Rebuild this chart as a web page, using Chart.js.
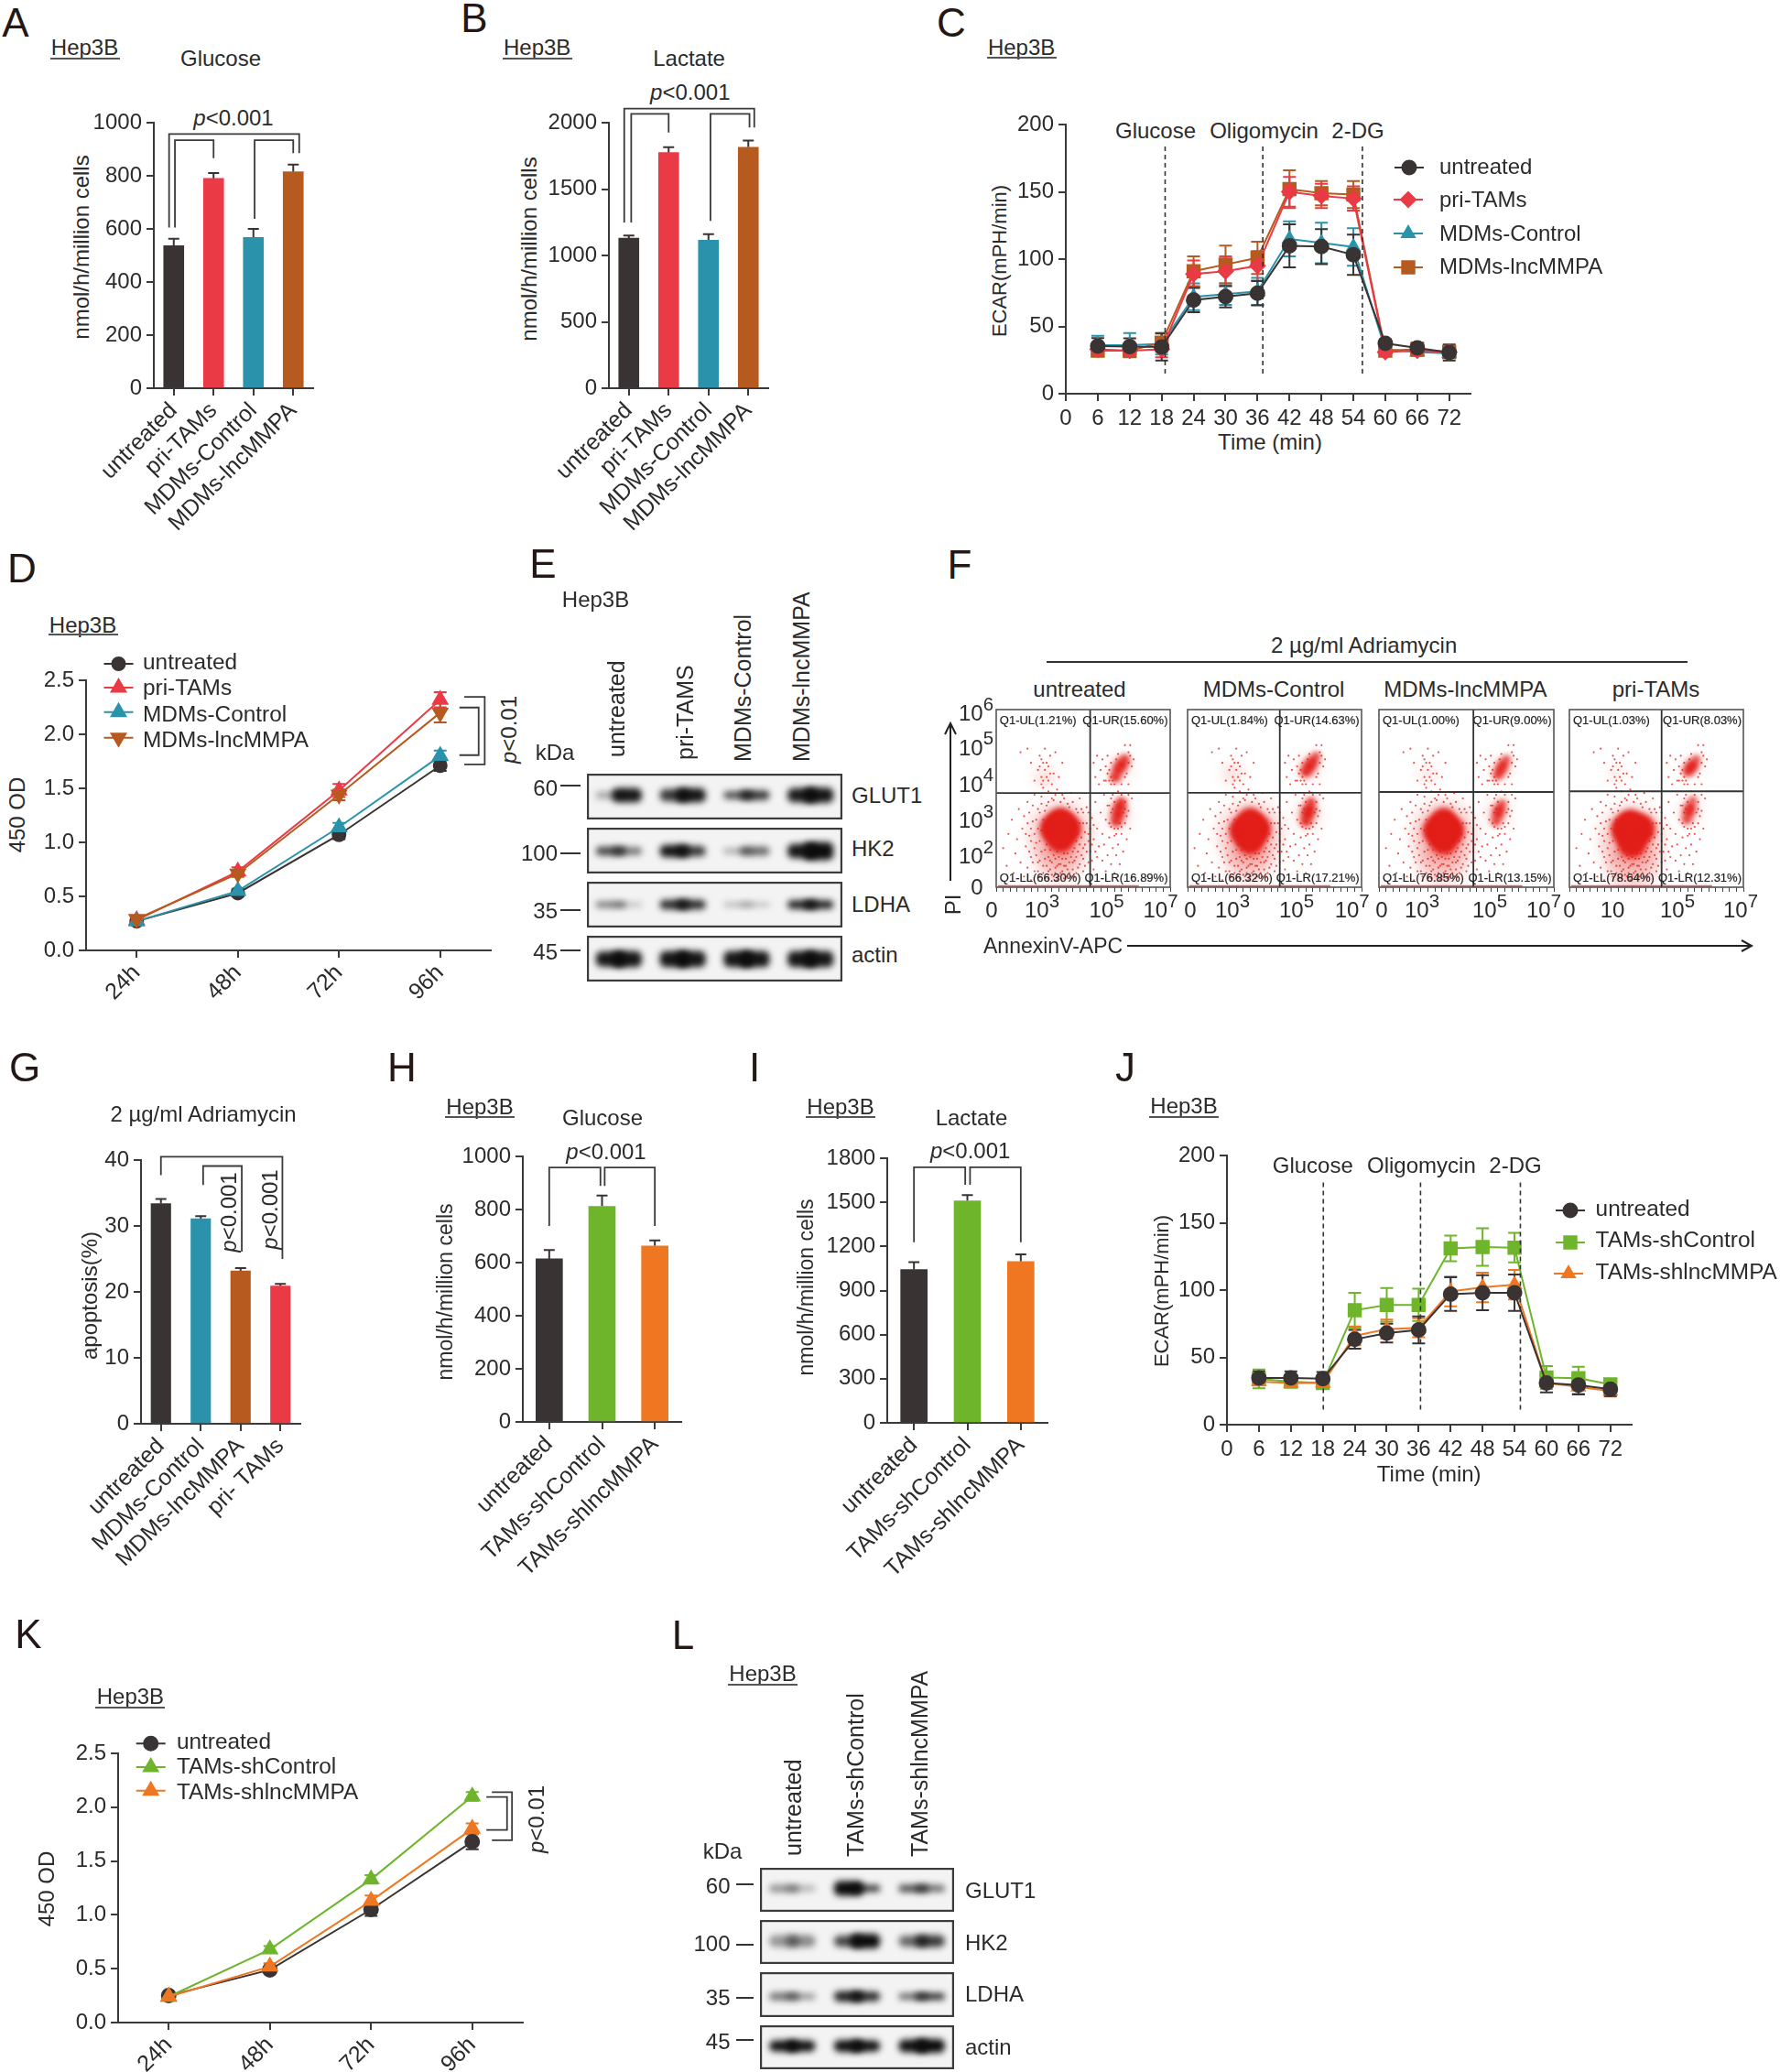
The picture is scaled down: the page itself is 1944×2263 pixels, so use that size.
<!DOCTYPE html>
<html><head><meta charset="utf-8">
<script src="https://cdn.jsdelivr.net/npm/chart.js@4"></script>
<style>
html,body{margin:0;padding:0;background:#fff;width:1944px;height:2263px;overflow:hidden}
#page{position:relative;width:1944px;height:2263px;font-family:"Liberation Sans",Arial,sans-serif;color:#2b2b2b}
canvas{position:absolute}
.t{position:absolute;white-space:nowrap;line-height:1}
.r{position:absolute;background:#3a3a3a}
sup{font-size:.85em;position:relative;top:-.55em;line-height:0;vertical-align:baseline}
</style></head><body><div id="page"></div>
<script>
// ---------- categories ----------
const catsAB = ['untreated','pri-TAMs','MDMs-Control','MDMs-lncMMPA'];
const catsG = ['untreated','MDMs-Control','MDMs-lncMMPA','pri- TAMs'];
const catsHI = ['untreated','TAMs-shControl','TAMs-shlncMMPA'];
const hours = ['24h','48h','72h','96h'];
const blotProteins = ['GLUT1','HK2','LDHA','actin'];
const blotKda = ['60','100','35','45'];
const blotLanesE = ['untreated','pri-TAMS','MDMs-Control','MDMs-lncMMPA'];
const flowTitles = ['untreated','MDMs-Control','MDMs-lncMMPA','pri-TAMs'];
// ---------- bar values ----------
const glucoseA = [537,790,568,815], glucoseAErr = [26,20,32,27];
const lactateB = [1130,1775,1115,1815], lactateBErr = [20,40,45,50];
const apoptosisG = [33.4,31.1,23.2,20.9], apoptosisGErr = [0.7,0.4,0.4,0.3];
const glucoseH = [614,812,663], glucoseHErr = [33,41,21];
const lactateI = [1043,1510,1098], lactateIErr = [50,39,48];
// ---------- ECAR C ----------
const ecarTimes = [6,12,18,24,30,36,42,48,54,60,66,72];
const ecarCUntreated = [35.4,35.1,34.7,69.6,72.1,74.6,109.8,109.3,103.2,37.4,34,30.6];
const ecarCUntreatedErr = [6,6,10,9,8,9,16,13,15,3,4,6];
const ecarCPri = [33,32,33,89,91,95,150,147,145,31,32,31];
const ecarCPriErr = [5,4,6,10,11,11,11,9,9,2,2,3];
const ecarCCtrl = [36,36,37,72,74,76,115,112,109,33,31,30];
const ecarCCtrlErr = [7,9,8,10,8,10,13,15,14,3,3,3];
const ecarCLnc = [32,32,38,91,96,101,152,149,148,32,33,31];
const ecarCLncErr = [3,4,7,11,14,12,14,9,10,2,3,4];
// ---------- ECAR J ----------
const ecarJUntreated = [34.7,34.7,34.2,63.4,68,70.4,97,98,98,31,29.4,26.3];
const ecarJUntreatedErr = [5,5,5,7,7,10,12.5,13,13.5,7,7,5];
const ecarJCtrl = [34,32,31,85,89,89,131,132,131.5,35,34.5,30];
const ecarJCtrlErr = [7,3,3,13,12.5,12,9.5,14,11,8.5,8.5,2];
const ecarJLnc = [32,31,31,66,71,72,99,102,104,31,28,25];
const ecarJLncErr = [3,3,3,7,7,7,11,11,11,3,5,4];
// ---------- growth D ----------
const odDUntreated = [.27,.53,1.07,1.71], odDUntreatedErr = [.01,.03,.04,.05];
const odDPri = [.28,.73,1.48,2.32], odDPriErr = [.02,.04,.06,.07];
const odDCtrl = [.27,.55,1.14,1.80], odDCtrlErr = [.02,.02,.04,.05];
const odDLnc = [.29,.71,1.44,2.2], odDLncErr = [.02,.03,.05,.09];
// ---------- growth K ----------
const odKUntreated = [.25,.49,1.05,1.68], odKUntreatedErr = [.02,.03,.06,.07];
const odKCtrl = [.24,.68,1.33,2.1], odKCtrlErr = [.01,.03,.04,.04];
const odKLnc = [.24,.52,1.13,1.8], odKLncErr = [.01,.03,.05,.05];
// ---------- western blots: band darkness and thickness, lane by lane (two lobes per lane) ----------
const blotEDark = [[[.35,.95],[.8,.95],[.7,.8],[.92,.95]],[[.75,.55],[.95,.8],[.35,.6],[.95,1]],[[.55,.25],[.85,.85],[.3,.25],[.9,.9]],[[.95,.95],[.95,.95],[.95,.95],[.95,.95]]];
const blotEThick = [[[.14,.3],[.26,.3],[.16,.2],[.3,.32]],[[.18,.16],[.26,.22],[.1,.18],[.3,.38]],[[.12,.08],[.2,.2],[.08,.08],[.18,.18]],[[.32,.34],[.34,.34],[.34,.34],[.34,.34]]];
const blotECentre = [.53,.49,.5,.49];
const blotLDark = [[[.42,.28],[1,.8],[.7,.6]],[[.4,.45],[.75,1],[.6,.8]],[[.55,.4],[.9,.85],[.6,.85]],[[.97,.97],[.97,.97],[.97,1]]];
const blotLThick = [[[.16,.12],[.32,.14],[.16,.14]],[[.26,.26],[.24,.32],[.24,.26]],[[.16,.13],[.22,.2],[.13,.14]],[[.24,.24],[.26,.24],[.28,.3]]];
const blotLCentre = [.53,.52,.46,.53];
// ---------- flow cytometry: estimated density clusters [x%, y%, r] ----------
const flowCore = [
 [[37,33,19],[33,33,15],[41,33,15],[37,27,15],[37,38,13],[70,66,6],[72,69,7],[68.5,62,6],[74,72,5],[69,37,6],[70,41,7],[71,45,7],[72,48,5]],
 [[36,32,19],[32,32,15],[40,33,15],[36,26,15],[36,38,13],[68,65,6],[70,68,7],[72,71,6],[74,74,4],[68,37,6],[69,41,7],[70,44,7],[71,48,5]],
 [[37,32,19],[33,32,15],[41,32,15],[37,26,15],[37,38,13],[68,63,5],[69.5,66,6],[71,69,6],[73,72,4],[67,37,5],[68,41,6],[69,44,6],[70.5,47,4]],
 [[36,31,20],[32,33,15],[41,33,16],[36,24,15],[35,37,13],[68,65,5],[69.5,67,6],[71,69,6],[73,72,4],[67.5,38,5],[68.5,42,6],[69.5,45,6],[71,49,4]]
];
const flowHalo = [
 [[37,30,34],[36,16,24],[71,67,10],[70,41,12],[28,62,9]],
 [[36,30,34],[35,16,24],[70,68,10],[69,41,12],[26,64,9]],
 [[37,30,34],[36,15,26],[70,67,8],[68,42,11],[28,64,7]],
 [[36,28,34],[36,13,28],[70,68,7],[69,42,10],[27,64,6]]
];
const flowSpecks = [[4,22],[6,12],[7,30],[9,38],[10,8],[11,19],[12,27],[13,44],[14,14],[15,33],[16,6],[16,40],[17,23],[18,11],[18,48],[19,29],[20,4],[20,17],[21,37],[22,9],[22,52],[23,25],[24,14],[24,44],[25,6],[26,32],[26,51],[27,12],[27,56],[28,21],[28,5],[29,46],[30,9],[30,54],[31,15],[32,7],[33,49],[34,11],[35,4],[35,55],[36,13],[37,8],[38,52],[39,5],[40,12],[41,47],[42,8],[43,53],[44,14],[45,6],[46,44],[47,11],[48,50],[49,18],[50,9],[50,36],[51,24],[52,45],[53,14],[53,30],[54,20],[55,39],[56,10],[56,27],[57,48],[58,17],[58,33],[59,23],[60,42],[61,15],[61,30],[62,52],[62,24],[63,9],[63,38],[64,18],[64,46],[65,28],[66,13],[66,34],[67,22],[67,52],[68,8],[68,29],[69,18],[70,24],[71,13],[72,30],[73,20],[74,36],[75,27],[76,43],[77,33],[78,50],[22,60],[24,66],[25,74],[26,58],[27,70],[28,78],[29,62],[30,68],[31,74],[32,58],[33,64],[34,76],[20,70],[18,78],[14,76],[36,62],[38,70],[56,70],[57,62],[58,74],[59,58],[60,66],[61,72],[62,60],[63,68],[64,74],[65,60],[66,70],[76,76],[77,80],[78,68],[79,72],[72,58],[74,62],[76,58],[66,58],[70,54],[72,52],[74,48],[76,52],
 [17,30],[18,36],[19,20],[19,42],[20,26],[20,33],[21,14],[21,46],[22,22],[22,30],[23,38],[23,18],[24,9],[24,33],[25,26],[25,42],[25,15],[26,20],[26,47],[27,8],[27,38],[28,16],[28,43],[29,12],[29,24],[30,5],[30,17],[30,48],[31,10],[31,21],[32,14],[32,50],[33,6],[33,18],[34,8],[34,16],[34,52],[35,12],[35,20],[36,6],[36,17],[37,13],[37,48],[38,9],[38,16],[39,12],[39,19],[39,50],[40,6],[40,16],[41,10],[41,19],[42,14],[42,45],[43,6],[43,17],[44,10],[44,20],[44,48],[45,15],[45,22],[46,8],[46,17],[46,26],[47,20],[47,42],[47,30],[48,13],[48,24],[48,36],[49,28],[49,44],[50,16],[50,22],[50,42],[51,31],[51,12],[52,20],[52,36],[53,26],[53,42],[54,33],[55,15],[55,24],[56,35],[57,20],[67,44],[68,48],[66,42],[65,36],[69,30],[70,33],[71,36],[73,42],[74,44],[75,40],[65,46],[66,50],[72,34],[68,33],[63,60],[64,64],[65,66],[66,62],[67,60],[68,58],[69,72],[70,75],[76,70],[77,74],[75,64],[74,80],[26,62],[27,60],[28,66],[29,70],[30,60],[31,64],[25,68],[26,72]];
const flowQuadX = [54,53,54,53], flowQuadY = [53,53.2,53.6,54];
const flowQ = [['Q1-UL(1.21%)','Q1-UR(15.60%)','Q1-LL(66.30%)','Q1-LR(16.89%)'],['Q1-UL(1.84%)','Q1-UR(14.63%)','Q1-LL(66.32%)','Q1-LR(17.21%)'],['Q1-UL(1.00%)','Q1-UR(9.00%)','Q1-LL(76.85%)','Q1-LR(13.15%)'],['Q1-UL(1.03%)','Q1-UR(8.03%)','Q1-LL(78.64%)','Q1-LR(12.31%)']];

// ---------- colours ----------
const cBlack='#3a3333',cRed='#ea3a45',cTeal='#2a93ab',cBrown='#b75a1f',cGreen='#6fb52c',cOrange='#ef7722',axisC='#3a3a3a';

Chart.defaults.font.family='"Liberation Sans"';
Chart.defaults.font.size=24;
Chart.defaults.color='#2b2b2b';
Chart.defaults.animation=false;
Chart.defaults.responsive=false;
Chart.defaults.devicePixelRatio=1;
Chart.defaults.layout.autoPadding=false;
Chart.defaults.plugins.legend.display=false;
Chart.defaults.plugins.tooltip.enabled=false;

const page=document.getElementById('page');
function T(s,x,y,o={}){const d=document.createElement('div');d.className='t';d.innerHTML=s;
 const size=o.size||24;let st=`left:${x}px;top:${y}px;font-size:${size}px;`;
 if(o.color)st+=`color:${o.color};`;if(o.stroke)st+=`-webkit-text-stroke:${o.stroke}px #222;color:#222;`;
 const a=o.a||'c';
 if(a==='up')st+='transform-origin:0 0;transform:rotate(-90deg) translate(0,-50%);';
 else if(a==='cup')st+='transform:translate(-50%,-50%) rotate(-90deg);';
 else if(a==='l')st+='transform:translate(0,-50%);';
 else if(a==='r')st+='transform:translate(-100%,-50%);';
 else st+='transform:translate(-50%,-50%);';
 d.style.cssText=st;page.appendChild(d);return d;}
function R(x,y,w,h,c){const d=document.createElement('div');d.className='r';d.style.cssText=`left:${x}px;top:${y}px;width:${w}px;height:${h}px;`+(c?`background:${c};`:'');page.appendChild(d);}
function cv(L,t,W,H){const c=document.createElement('canvas');c.width=Math.round(W);c.height=Math.round(H);c.style.left=L+'px';c.style.top=t+'px';c.style.width=Math.round(W)+'px';c.style.height=Math.round(H)+'px';page.appendChild(c);return c.getContext('2d');}
function cell(s,x,yUnderline,cx,cy){T(s,cx,cy);R(cx-38,yUnderline,76,2,'#555');}
const pValue='<i>p</i>&lt;0.001',pValue2='<i>p</i>&lt;0.01';

// marks plugin: error bars, brackets, dashed lines, legend glyphs, all placed through the chart's scales
const marks={id:'marks',
 beforeDatasetsDraw(ch){const {ctx,scales:{x,y}}=ch;ctx.save();
  const ds=ch.data.datasets.map((d,i)=>[d,i]).sort((a,b)=>(b[0].order||0)-(a[0].order||0));
  ds.forEach(([d,i])=>{if(!d.errors)return;const m=ch.getDatasetMeta(i);
   ctx.strokeStyle=d.errColor||d.borderColor;ctx.lineWidth=2;
   d.errors.forEach((e,k)=>{const el=m.data[k];const v=d.data[k];const val=typeof v==='number'?v:v.y;
    const px=el.x;const up=y.getPixelForValue(val+e),dn=d.upOnly?y.getPixelForValue(val):y.getPixelForValue(val-e);const c=d.cap||7;
    ctx.beginPath();ctx.moveTo(px,dn);ctx.lineTo(px,up);ctx.moveTo(px-c,up);ctx.lineTo(px+c,up);
    if(!d.upOnly){ctx.moveTo(px-c,dn);ctx.lineTo(px+c,dn);}ctx.stroke();});});
  ctx.restore();},
 afterDatasetsDraw(ch,_,o){const {ctx,scales:{x,y}}=ch;ctx.save();
  ctx.strokeStyle='#3a3a3a';ctx.lineWidth=1.8;
  (o.brackets||[]).forEach(b=>{ctx.beginPath();b.forEach((p,i)=>{const X=x.getPixelForValue(p[0]),Y=y.getPixelForValue(p[1]);i?ctx.lineTo(X,Y):ctx.moveTo(X,Y);});ctx.stroke();});
  ctx.setLineDash([5,4]);ctx.lineWidth=1.6;ctx.strokeStyle='#333';
  (o.dashes||[]).forEach(b=>{const X=x.getPixelForValue(b[0]);ctx.beginPath();ctx.moveTo(X,y.getPixelForValue(b[1]));ctx.lineTo(X,y.getPixelForValue(b[2]));ctx.stroke();});
  ctx.setLineDash([]);
  (o.legend||[]).forEach(l=>{const d=ch.data.datasets[l.i];const X=l.x-ch.canvas.offsetLeft,Y=l.y-ch.canvas.offsetTop;
   ctx.strokeStyle=d.borderColor;ctx.fillStyle=d.borderColor;ctx.lineWidth=2;
   ctx.beginPath();ctx.moveTo(X-16,Y);ctx.lineTo(X+16,Y);ctx.stroke();
   Chart.helpers.drawPoint(ctx,{pointStyle:d.pointStyle,radius:d.pointRadius,rotation:d.pointRotation||0,borderWidth:1},X,Y);});
  ctx.restore();}};

function scaleBase(extra){return Object.assign({border:{color:axisC,width:2},
  grid:{drawOnChartArea:false,drawTicks:true,tickLength:8,color:axisC,tickColor:axisC,lineWidth:2,offset:false}},extra);}

function frame(o){const yw=72,pt=o.padTop||32,xh=o.xh,pr=o.extraRight||30;const L=o.left-yw,t=o.top-pt,W=o.right-L+pr,H=pt+(o.bottom-o.top)+xh;
 return {ctx:cv(L,t,W,H),padding:{left:0,top:pt,right:pr,bottom:0},yFit:s=>{s.width=yw;},xFit:s=>{s.height=xh;}};}

function barChart(o){const f=frame({...o,xh:195});
 new Chart(f.ctx,{type:'bar',data:{labels:o.labels,datasets:[{data:o.values,errors:o.errs,upOnly:true,errColor:'#3a3333',cap:o.cap||6,backgroundColor:o.colors,barThickness:o.barW}]},
 options:{layout:{padding:f.padding},plugins:{marks:{brackets:o.brackets}},scales:{
  x:scaleBase({afterFit:f.xFit,ticks:{autoSkip:false,minRotation:45,maxRotation:45,padding:2,font:{size:25}}}),
  y:scaleBase({afterFit:f.yFit,min:0,max:o.max,ticks:{stepSize:o.step,padding:5,callback:v=>String(v)}})}},plugins:[marks]});}

function ln(label,data,errors,color,style,order,radius,rot){return {label,data,errors,borderColor:color,backgroundColor:color,pointBackgroundColor:color,pointBorderColor:color,pointStyle:style,pointRadius:radius,pointRotation:rot||0,borderWidth:2,tension:0,clip:false,order,cap:7};}

function ecar(o){const f=frame({...o,xh:o.xh,extraRight:340});
 o.ds.forEach(d=>{d.data=d.data.map((v,i)=>({x:ecarTimes[i],y:v}));});
 new Chart(f.ctx,{type:'line',data:{datasets:o.ds},options:{layout:{padding:f.padding},plugins:{marks:{dashes:o.dashes,legend:o.legend}},scales:{
  x:scaleBase({type:'linear',afterFit:f.xFit,min:0,max:76,ticks:{stepSize:6,includeBounds:false,autoSkip:false,maxRotation:0,padding:5,font:{size:24}}}),
  y:scaleBase({afterFit:f.yFit,min:0,max:200,ticks:{stepSize:50,padding:5}})}},plugins:[marks]});}

function growth(o){const f=frame({...o,xh:70,extraRight:70});
 new Chart(f.ctx,{type:'line',data:{labels:hours,datasets:o.ds},options:{layout:{padding:f.padding},plugins:{marks:{brackets:o.brackets,legend:o.legend}},scales:{
  x:scaleBase({offset:true,afterFit:f.xFit,ticks:{autoSkip:false,minRotation:45,maxRotation:45,padding:2,font:{size:25}}}),
  y:scaleBase({afterFit:f.yFit,min:0,max:2.5,ticks:{stepSize:.5,padding:5,callback:v=>v.toFixed(1)}})}},plugins:[marks]});}

const blotPaint={id:'blotPaint',
 beforeDraw(ch){const {ctx,canvas}=ch;ctx.save();ctx.fillStyle='#f3f3f3';ctx.fillRect(0,0,canvas.width,canvas.height);ctx.restore();},
 beforeDatasetsDraw(ch){ch.ctx.save();ch.ctx.filter='blur(3.5px)';},
 afterDatasetsDraw(ch){ch.ctx.restore();},
 afterDraw(ch){const {ctx,canvas}=ch;ctx.save();ctx.strokeStyle='#3c3c3c';ctx.lineWidth=2.4;ctx.strokeRect(1,1,canvas.width-2,canvas.height-2);ctx.restore();}};
function blotRow(x0,x1,y0,y1,dark,thick,centre,barW){
 const labels=[],data=[],colors=[];
 dark.forEach((lane,l)=>{labels.push(l+'.0',l+'.1',l+'.2',l+'.3');
  data.push(null,[centre-thick[l][0]/2,centre+thick[l][0]/2],[centre-thick[l][1]/2,centre+thick[l][1]/2],null);
  colors.push('#000',`rgba(12,12,12,${lane[0]})`,`rgba(12,12,12,${lane[1]})`,'#000');});
 new Chart(cv(x0,y0,x1-x0,y1-y0),{type:'bar',data:{labels,datasets:[{data,backgroundColor:colors,barThickness:barW,borderRadius:6,borderSkipped:false}]},
  options:{layout:{padding:0},scales:{x:{display:false},y:{display:false,min:0,max:1}}},plugins:[blotPaint]});}

const flowFrame={id:'flowFrame',
 beforeDatasetDraw(ch,a){const d=ch.data.datasets[a.index];ch.ctx.save();if(d.blur)ch.ctx.filter=`blur(${d.blur}px)`;},
 afterDatasetDraw(ch){ch.ctx.restore();},
 afterDatasetsDraw(ch,_,o){const {ctx,chartArea:a,scales:{x,y}}=ch;ctx.save();ctx.strokeStyle='#333';ctx.lineWidth=1.8;
  ctx.beginPath();ctx.moveTo(x.getPixelForValue(o.qx),a.top);ctx.lineTo(x.getPixelForValue(o.qx),a.bottom);
  ctx.moveTo(a.left,y.getPixelForValue(o.qy));ctx.lineTo(a.right,y.getPixelForValue(o.qy));ctx.stroke();
  ctx.strokeStyle='#555';ctx.lineWidth=1.6;ctx.strokeRect(a.left,a.top,a.width,a.height);ctx.restore();}};
function flow(i,x0,x1,y0,y1){const p=8,W=x1-x0+2*p,H=y1-y0+p+10;
 const toB=a=>a.map(v=>({x:v[0],y:v[1],r:v[2]}));
 new Chart(cv(x0-p,y0-p,W,H),{type:'bubble',data:{datasets:[
  {data:toB(flowCore[i]),backgroundColor:'rgb(226,30,25)',borderWidth:0,blur:3,order:0},
  {data:flowSpecks.map(v=>({x:v[0],y:v[1],r:1.1})),backgroundColor:'rgba(226,40,30,.8)',borderWidth:0,order:1},
  {data:toB(flowHalo[i]),backgroundColor:'rgba(226,30,25,.24)',borderWidth:0,blur:8,order:2},
  {type:'line',data:[{x:1,y:.6},{x:82,y:.6}],borderColor:'rgba(226,30,25,.7)',borderWidth:2,pointRadius:0,order:3}]},
  options:{layout:{padding:{left:p,right:p,top:p,bottom:0}},plugins:{flowFrame:{qx:flowQuadX[i],qy:flowQuadY[i]}},scales:{
   x:{type:'linear',min:0,max:100,afterFit:s=>{s.height=10;},border:{display:false},grid:{drawOnChartArea:false,tickLength:5,color:'#444',tickColor:'#444',lineWidth:1},ticks:{stepSize:4,autoSkip:false,includeBounds:false,callback:()=>'',font:{size:1},padding:0}},
   y:{type:'linear',min:0,max:100,afterFit:s=>{s.width=0;},display:false}}},plugins:[flowFrame]});}

const letter=(s,x,y)=>T(s,x,y,{size:44,color:'#231815'});
const lg=24.4;
// ---------- A ----------
letter('A',17,25);cell('Hep3B',0,63,92.5,52);T('Glucose',241,64);T(pValue,255,129);T('nmol/h/million cells',89,270,{a:'cup'});
barChart({left:167.6,right:342,top:134,bottom:423.6,labels:catsAB,values:glucoseA,errs:glucoseAErr,colors:[cBlack,cRed,cTeal,cBrown],max:1000,step:200,barW:22,
 brackets:[[[-.117,605],[-.117,957],[3.15,957],[3.15,885]],[[.03,605],[.03,934],[1,934],[1,866]],[[2.03,638],[2.03,934],[3,934],[3,885]]]});
// ---------- B ----------
letter('B',518,20);cell('Hep3B',0,63,586.7,52);T('Lactate',752.6,64);T(pValue,753.8,100.7);T('nmol/h/million cells',578,272,{a:'cup'});
barChart({left:665,right:838.6,top:134,bottom:423.6,labels:catsAB,values:lactateB,errs:lactateBErr,colors:[cBlack,cRed,cTeal,cBrown],max:2000,step:500,barW:22,padTop:40,
 brackets:[[[-.115,1248],[-.115,2106],[3.15,2106],[3.15,1963]],[[.06,1248],[.06,2067],[1,2067],[1,1926]],[[2.05,1260],[2.05,2067],[3.03,2067],[3.03,1963]]]});
// ---------- C ----------
letter('C',1039,25);cell('Hep3B',0,62,1115.6,52);T('Glucose',1262,143);T('Oligomycin',1380.5,143);T('2-DG',1483,143);T('ECAR(mPH/min)',1091.5,285,{a:'cup',size:22});T('Time (min)',1387,483);
const cLabels=['untreated','pri-TAMs','MDMs-Control','MDMs-lncMMPA'];
ecar({left:1164.4,right:1606,top:136,bottom:430,xh:45,
 ds:[ln(cLabels[0],ecarCUntreated,ecarCUntreatedErr,cBlack,'circle',0,7.5),ln(cLabels[1],ecarCPri,ecarCPriErr,cRed,'rectRot',1,8),ln(cLabels[2],ecarCCtrl,ecarCCtrlErr,cTeal,'triangle',3,8),ln(cLabels[3],ecarCLnc,ecarCLncErr,cBrown,'rect',2,9.5)],
 dashes:[[18.65,183.7,13],[37,183.7,13],[55.7,183.7,13]],
 legend:[{i:0,x:1539,y:183},{i:1,x:1538,y:218},{i:2,x:1538,y:255},{i:3,x:1538,y:292}]});
[181.7,218,255,290.7].forEach((y,i)=>T(cLabels[i],1572,y,{a:'l'}));
// ---------- D ----------
letter('D',24,621);cell('Hep3B',0,692,90.5,682.7);T('450 OD',19,890,{a:'cup'});T(pValue2,556,796.7,{a:'cup'});
growth({left:94.4,right:536,top:742.7,bottom:1037.3,
 ds:[ln(catsAB[0],odDUntreated,odDUntreatedErr,cBlack,'circle',3,7),ln(catsAB[1],odDPri,odDPriErr,cRed,'triangle',2,9),ln(catsAB[2],odDCtrl,odDCtrlErr,cTeal,'triangle',1,9),ln(catsAB[3],odDLnc,odDLncErr,cBrown,'triangle',0,9,180)],
 brackets:[[[3.238,2.347],[3.44,2.347],[3.44,1.722],[3.238,1.722]],[[3.19,2.248],[3.38,2.248],[3.38,1.807],[3.19,1.807]]],
 legend:[{i:0,x:129.5,y:725},{i:1,x:129.5,y:751},{i:2,x:129.5,y:777.7},{i:3,x:129.5,y:805.7}]});
[722.5,751,780,808].forEach((y,i)=>T(catsAB[i],156,y,{a:'l',size:lg}));
// ---------- E ----------
letter('E',593,616);T('Hep3B',650.5,655);T('kDa',606,821.7);
[[673,827],[747.5,830],[811,832],[875,832]].forEach((p,i)=>T(blotLanesE[i],p[0],p[1],{a:'up',size:25}));
[[845,895],[904,954],[962.7,1013],[1021.7,1071.7]].forEach((b,i)=>blotRow(641,920,b[0],b[1],blotEDark[i],blotEThick[i],blotECentre[i],32));
[[860.7,857],[931.7,930.7],[995,993],[1040,1037]].forEach((p,i)=>{T(blotKda[i],609,p[0],{a:'r'});R(612,p[1],22,2,'#333');});
[869,927,988,1043].forEach((y,i)=>T(blotProteins[i],930,y,{a:'l'}));
// ---------- F ----------
letter('F',1048,617);T('2 µg/ml Adriamycin',1489.7,705);R(1142.6,722,700,2,'#333');
const flowBoxes=[[1087.8,1277.5],[1297,1486.7],[1506,1696.5],[1714,1904]];
const flowTitleX=[1179,1391,1600.4,1808.5];
flowBoxes.forEach((b,i)=>{flow(i,b[0],b[1],775,969.3);T(flowTitles[i],flowTitleX[i],753);
 T(flowQ[i][0],b[0]+4,786,{a:'l',size:13,stroke:.2});T(flowQ[i][1],b[1]-2,786,{a:'r',size:13,stroke:.2});T(flowQ[i][2],b[0]+4,958,{a:'l',size:13,stroke:.2});T(flowQ[i][3],b[1]-2,958,{a:'r',size:13,stroke:.2});});
[[6,779],[5,816.7],[4,856.7],[3,896],[2,935]].forEach(p=>T('10<sup>'+p[0]+'</sup>',1066,p[1]));T('0',1067,969);
const flowXTickX=[[1083,1138,1208.6,1267.5],[1300,1346,1416,1476.7],[1509,1553,1627,1686],[1714,1761,1832,1901]];
const flowXTick=[['0','10<sup>3</sup>','10<sup>5</sup>','10<sup>7</sup>'],['0','10<sup>3</sup>','10<sup>5</sup>','10<sup>7</sup>'],['0','10<sup>3</sup>','10<sup>5</sup>','10<sup>7</sup>'],['0','10','10<sup>5</sup>','10<sup>7</sup>']];
flowXTickX.forEach((r,i)=>r.forEach((x,k)=>T(flowXTick[i][k],x,994)));
T('PI',1040.6,988,{a:'cup'});T('AnnexinV-APC',1074,1033,{a:'l',size:23});
const svgNS='http://www.w3.org/2000/svg';const sv=document.createElementNS(svgNS,'svg');sv.setAttribute('width',1944);sv.setAttribute('height',2263);sv.style.cssText='position:absolute;left:0;top:0;pointer-events:none';
sv.innerHTML='<g stroke="#222" stroke-width="2" fill="none"><path d="M1038 962V792M1032 802L1038 790L1044 802"/><path d="M1231 1033H1912M1902 1027L1913 1033L1902 1039"/></g>';page.appendChild(sv);
// ---------- G ----------
letter('G',27,1166);T('2 µg/ml Adriamycin',222,1216.6);T('apoptosis(%)',98,1414.5,{a:'cup'});T(pValue,250,1324,{a:'cup'});T(pValue,294.6,1320.6,{a:'cup'});
barChart({left:154,right:327.6,top:1266.5,bottom:1554.4,labels:catsG,values:apoptosisG,errs:apoptosisGErr,colors:[cBlack,cTeal,cBrown,cRed],max:40,step:10,barW:21.5,
 brackets:[[[0,37.7],[0,40.5],[3.05,40.5],[3.05,25]],[[1.06,36.2],[1.06,39.1],[2.03,39.1],[2.03,26.1]]]});
// ---------- H ----------
letter('H',439,1166);cell('Hep3B',0,1219,524,1208.5);T('Glucose',658,1221);T(pValue,662,1258.4);T('nmol/h/million cells',486,1411,{a:'cup',size:23});
barChart({left:571.2,right:744.3,top:1262.8,bottom:1552.5,labels:catsHI,values:glucoseH,errs:glucoseHErr,colors:[cBlack,cGreen,cOrange],max:1000,step:200,barW:29,
 brackets:[[[0,738],[0,958],[.97,958],[.97,889]],[[1.05,889],[1.05,958],[2,958],[2,738]]]});
// ---------- I ----------
letter('I',824,1166);cell('Hep3B',0,1219,918,1208.5);T('Lactate',1061,1221);T(pValue,1059.7,1257);T('nmol/h/million cells',880,1406,{a:'cup',size:23});
barChart({left:968.7,right:1143.8,top:1264.7,bottom:1554,labels:catsHI,values:lactateI,errs:lactateIErr,colors:[cBlack,cGreen,cOrange],max:1800,step:300,barW:29,
 brackets:[[[0,1229],[0,1738],[.96,1738],[.96,1620]],[[1.05,1620],[1.05,1738],[2,1738],[2,1229]]]});
// ---------- J ----------
letter('J',1229,1166);cell('Hep3B',0,1219,1293,1208);T('Glucose',1433.8,1273);T('Oligomycin',1552.4,1273);T('2-DG',1655,1273);T('ECAR(mPH/min)',1268.5,1410,{a:'cup',size:22});T('Time (min)',1560.7,1610);
const jLabels=['untreated','TAMs-shControl','TAMs-shlncMMPA'];
ecar({left:1340,right:1782.3,top:1261.7,bottom:1556,xh:45,
 ds:[ln(jLabels[0],ecarJUntreated,ecarJUntreatedErr,cBlack,'circle',0,7.5),ln(jLabels[1],ecarJCtrl,ecarJCtrlErr,cGreen,'rect',2,9.5),ln(jLabels[2],ecarJLnc,ecarJLncErr,cOrange,'triangle',1,8)],
 dashes:[[18.1,180,9.7],[36.35,180,9.7],[55.1,180,9.7]],
 legend:[{i:0,x:1715,y:1322},{i:1,x:1715,y:1357},{i:2,x:1713,y:1391}]});
[1320,1354,1389].forEach((y,i)=>T(jLabels[i],1742.6,y,{a:'l',size:lg}));
// ---------- K ----------
letter('K',31,1785);cell('Hep3B',0,1864,142.4,1852.7);T('450 OD',51.3,2062.7,{a:'cup'});T(pValue2,585.7,1986.7,{a:'cup'});
growth({left:129.2,right:571.4,top:1915,bottom:2209.3,
 ds:[ln(jLabels[0],odKUntreated,odKUntreatedErr,cBlack,'circle',2,7.5),ln(jLabels[1],odKCtrl,odKCtrlErr,cGreen,'triangle',1,9),ln(jLabels[2],odKLnc,odKLncErr,cOrange,'triangle',0,9)],
 brackets:[[[3.194,2.14],[3.393,2.14],[3.393,1.693],[3.194,1.693]],[[3.14,2.095],[3.344,2.095],[3.344,1.789],[3.14,1.789]]],
 legend:[{i:0,x:164.7,y:1904.3},{i:1,x:164.7,y:1930},{i:2,x:164.7,y:1955.7}]});
[1901.7,1929,1956.7].forEach((y,i)=>T(jLabels[i],192.9,y,{a:'l',size:lg}));
// ---------- L ----------
letter('L',746,1786);T('Hep3B',833,1828);R(795,1839,76,2,'#555');T('kDa',789,2021.7);
[[865.7,2027],[934,2028],[1004,2028]].forEach((p,i)=>T(catsHI[i],p[0],p[1],{a:'up',size:25}));
[[2040,2088],[2096.7,2145],[2154,2202.7],[2211.7,2260]].forEach((b,i)=>blotRow(830,1041.7,b[0],b[1],blotLDark[i],blotLThick[i],blotLCentre[i],32));
[[2060,2057.3],[2123,2122.5],[2181.7,2180.5],[2230,2226.5]].forEach((p,i)=>{T(blotKda[i],797.5,p[0],{a:'r'});R(804,p[1],19,2,'#333');});
[2065,2121.7,2178,2236].forEach((y,i)=>T(blotProteins[i],1054,y,{a:'l'}));
</script></body></html>
